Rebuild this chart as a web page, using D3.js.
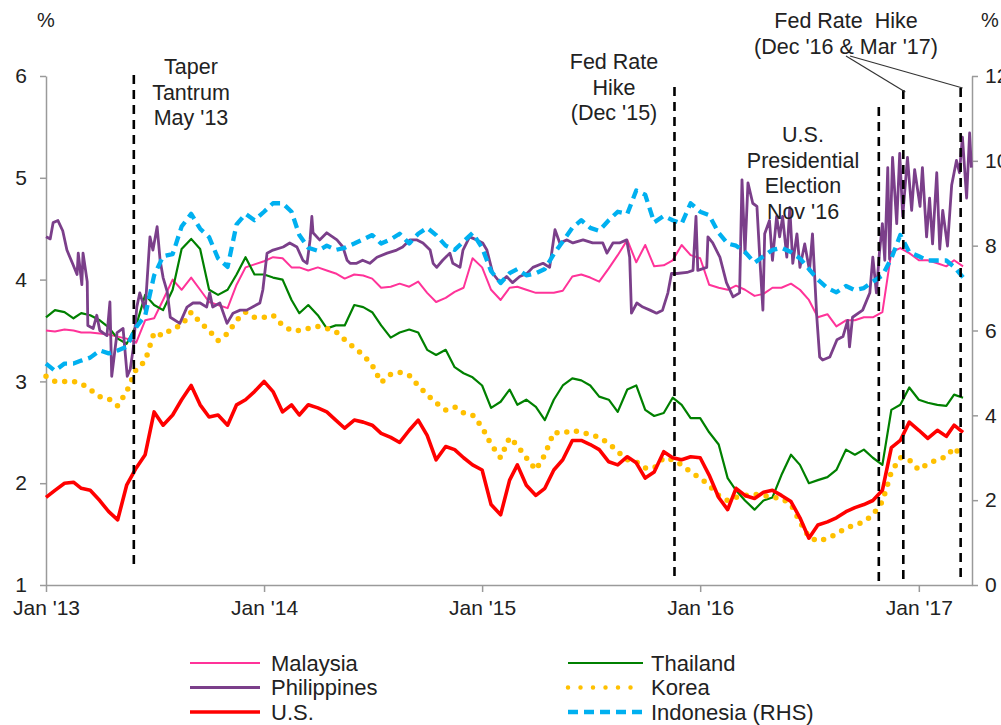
<!DOCTYPE html>
<html>
<head>
<meta charset="utf-8">
<script src="https://cdn.jsdelivr.net/npm/d3@7"></script>
<style>
body{margin:0;background:#fff;}
svg{font-family:"Liberation Sans",Arial,sans-serif;}
</style>
</head>
<body>
<svg width="1001" height="725"></svg>
<script>
// semi-monthly sample dates (1st and 16th of every month, Jan '13 - Mar '17)
var gridDates = d3.timeMonth.range(new Date(2013,0,1), new Date(2017,3,1))
  .flatMap(function(m){ return [m, d3.timeDay.offset(m,15)]; });

var malaysia = [3.50,3.49,3.51,3.50,3.48,3.48,3.47,3.46,3.44,3.42,
  3.38,3.60,3.62,3.80,4.0,3.90,4.02,3.90,3.78,3.75,
  3.72,3.95,4.12,4.15,4.18,4.22,4.21,4.12,4.12,4.09,
  4.12,4.09,4.06,4.01,4.05,4.04,4.01,3.92,3.93,3.96,
  3.93,3.98,3.87,3.78,3.82,3.88,3.92,4.21,4.12,3.90,
  3.80,3.92,3.93,3.90,3.87,3.87,3.87,3.89,4.03,4.05,
  4.02,3.98,4.11,4.24,4.39,4.17,4.34,4.13,4.14,4.19,
  4.34,4.24,4.21,3.95,3.92,3.90,3.94,3.90,3.84,3.86,
  3.92,3.92,3.96,3.90,3.80,3.63,3.66,3.54,3.60,3.60,
  3.63,3.63,3.68,4.27,4.31,4.26,4.19,4.19,4.16,4.13,
  4.19,4.13];

var thailand = [3.63,3.70,3.68,3.62,3.67,3.65,3.60,3.53,3.42,3.37,
  3.55,3.85,3.75,3.70,3.90,4.30,4.40,4.30,3.90,3.85,
  3.90,4.05,4.22,4.05,4.05,4.02,4.0,3.80,3.67,3.75,
  3.65,3.52,3.55,3.55,3.75,3.73,3.68,3.55,3.43,3.48,
  3.51,3.48,3.31,3.26,3.31,3.14,3.08,3.04,2.96,2.74,
  2.80,2.92,2.77,2.82,2.75,2.62,2.82,2.96,3.03,3.01,
  2.96,2.85,2.82,2.70,2.92,2.96,2.72,2.66,2.69,2.84,
  2.77,2.64,2.64,2.50,2.38,2.05,1.93,1.83,1.74,1.83,
  1.86,2.08,2.28,2.18,2.0,2.03,2.06,2.13,2.33,2.28,
  2.33,2.25,2.18,2.72,2.77,2.94,2.82,2.79,2.77,2.76,
  2.87,2.84];

var korea = [3.05,3.0,3.0,3.0,2.98,2.92,2.85,2.83,2.76,2.90,
  3.12,3.20,3.48,3.45,3.52,3.55,3.68,3.58,3.50,3.40,
  3.47,3.60,3.68,3.63,3.63,3.65,3.55,3.50,3.50,3.52,
  3.54,3.52,3.49,3.41,3.33,3.26,3.16,2.99,3.07,3.09,
  3.06,2.96,2.87,2.79,2.72,2.75,2.69,2.67,2.55,2.38,
  2.25,2.45,2.37,2.25,2.13,2.28,2.50,2.49,2.52,2.50,
  2.48,2.45,2.39,2.31,2.23,2.21,2.15,2.15,2.25,2.23,
  2.18,2.11,2.05,1.98,1.88,1.83,1.86,1.88,1.89,1.88,
  1.86,1.85,1.79,1.62,1.47,1.43,1.46,1.50,1.56,1.59,
  1.62,1.69,1.82,2.11,2.25,2.23,2.13,2.19,2.23,2.26,
  2.35,2.25];

var us = [1.86,1.93,2.0,2.01,1.95,1.93,1.83,1.72,1.64,1.98,
  2.15,2.28,2.70,2.57,2.67,2.82,2.96,2.77,2.65,2.67,
  2.57,2.77,2.82,2.90,3.0,2.90,2.70,2.77,2.67,2.77,
  2.74,2.70,2.62,2.54,2.62,2.60,2.57,2.49,2.45,2.40,
  2.52,2.62,2.47,2.23,2.36,2.33,2.25,2.18,2.13,1.79,
  1.69,2.03,2.18,1.98,1.88,1.95,2.13,2.23,2.42,2.42,
  2.38,2.33,2.21,2.18,2.26,2.20,2.05,2.11,2.31,2.25,
  2.23,2.26,2.25,2.08,1.86,1.74,1.95,1.88,1.85,1.91,
  1.93,1.88,1.82,1.66,1.46,1.59,1.62,1.66,1.72,1.76,
  1.79,1.83,1.93,2.35,2.42,2.60,2.52,2.44,2.52,2.46,
  2.57,2.50];

// right-hand scale
var indonesia = [5.22,5.05,5.22,5.22,5.29,5.36,5.53,5.46,5.53,5.62,
  6.08,6.35,7.3,7.75,7.8,8.45,8.75,8.4,8.2,7.7,
  7.5,8.5,8.75,8.6,8.8,9.0,9.0,8.8,8.25,7.95,
  7.88,8.0,7.9,7.95,8.05,8.15,8.25,8.05,8.15,8.28,
  8.05,8.28,8.42,8.25,8.0,7.9,8.1,8.3,7.95,7.4,
  7.12,7.35,7.45,7.3,7.35,7.45,7.8,8.1,8.42,8.6,
  8.42,8.35,8.6,8.8,8.75,9.3,9.2,8.55,8.7,8.6,
  8.52,9.0,8.8,8.72,8.3,8.05,8.0,7.85,7.6,7.75,
  7.9,7.95,7.85,7.7,7.45,7.2,7.0,6.9,7.05,6.95,
  7.0,7.15,7.3,7.7,8.25,7.85,7.75,7.65,7.65,7.65,
  7.5,7.25];

// Philippines is spiky, so it has its own dates
var phDates = ["2013-01-01","2013-01-08","2013-01-13","2013-01-21","2013-01-29","2013-02-05","2013-02-15","2013-02-22","2013-02-24","2013-03-02",
  "2013-03-04","2013-03-11","2013-03-12","2013-03-21","2013-03-27","2013-04-01","2013-04-13","2013-04-18","2013-04-21","2013-04-30",
  "2013-05-10","2013-05-17","2013-05-22","2013-05-27","2013-06-02","2013-06-07","2013-06-16","2013-06-24","2013-06-29","2013-07-06",
  "2013-07-11","2013-07-16","2013-07-23","2013-07-28","2013-08-13","2013-08-25","2013-09-04","2013-09-16","2013-09-27","2013-10-02",
  "2013-10-07","2013-10-19","2013-10-31","2013-11-10","2013-11-22","2013-12-03","2013-12-25","2013-12-30","2014-01-06","2014-01-16",
  "2014-02-02","2014-02-13","2014-02-25","2014-03-07","2014-03-14","2014-03-19","2014-03-22","2014-03-24","2014-04-04","2014-04-16",
  "2014-05-03","2014-05-13","2014-05-20","2014-05-25","2014-06-05","2014-06-15","2014-06-27","2014-07-09","2014-07-26","2014-08-11",
  "2014-08-21","2014-09-02","2014-09-14","2014-09-24","2014-10-06","2014-10-11","2014-10-17","2014-10-27","2014-11-08","2014-11-13",
  "2014-11-25","2014-11-30","2014-12-11","2014-12-23","2015-01-02","2015-01-09","2015-01-19","2015-01-31","2015-02-11","2015-02-21",
  "2015-03-05","2015-03-17","2015-03-27","2015-04-13","2015-04-24","2015-05-03","2015-05-11","2015-05-23","2015-06-02","2015-06-19",
  "2015-07-05","2015-07-22","2015-07-29","2015-08-08","2015-08-19","2015-08-31","2015-09-05","2015-09-08","2015-09-17","2015-09-27",
  "2015-10-09","2015-10-20","2015-10-30","2015-11-08","2015-11-14","2015-11-23","2015-12-10","2015-12-20","2015-12-25","2015-12-28",
  "2016-01-12","2016-01-14","2016-01-22","2016-02-03","2016-02-14","2016-02-25","2016-03-07","2016-03-11","2016-03-16","2016-03-21",
  "2016-03-29","2016-04-05","2016-04-10","2016-04-15","2016-04-18","2016-04-26","2016-05-01","2016-05-08","2016-05-13","2016-05-18",
  "2016-05-25","2016-05-30","2016-06-04","2016-06-11","2016-06-16","2016-06-24","2016-07-02","2016-07-07","2016-07-14","2016-07-19",
  "2016-07-24","2016-08-05","2016-08-17","2016-08-27","2016-09-04","2016-09-07","2016-09-12","2016-09-29","2016-10-11","2016-10-16",
  "2016-10-22","2016-10-27","2016-11-01","2016-11-05","2016-11-10","2016-11-13","2016-11-18","2016-11-25","2016-11-30","2016-12-05",
  "2016-12-13","2016-12-20","2016-12-25","2017-01-03","2017-01-07","2017-01-14","2017-01-19","2017-01-24","2017-01-31","2017-02-05",
  "2017-02-10","2017-02-18","2017-02-25","2017-03-05","2017-03-10","2017-03-15","2017-03-22","2017-03-27","2017-03-30"];
var phValues = [4.42,4.40,4.56,4.58,4.48,4.29,4.15,4.05,4.26,3.95,
  4.26,3.98,3.55,3.52,3.65,3.50,3.45,3.78,3.05,3.48,
  3.52,3.05,3.12,3.32,3.73,3.87,3.70,4.42,4.29,4.52,
  4.19,4.02,3.88,3.63,3.57,3.73,3.77,3.77,3.73,3.87,
  3.73,3.77,3.57,3.67,3.70,3.70,3.77,3.90,4.26,4.29,
  4.32,4.36,4.32,4.19,4.16,4.39,4.62,4.46,4.39,4.46,
  4.39,4.32,4.19,4.16,4.16,4.19,4.16,4.22,4.26,4.29,
  4.32,4.39,4.39,4.36,4.29,4.16,4.12,4.19,4.26,4.16,
  4.12,4.29,4.42,4.39,4.36,4.29,4.06,3.97,4.03,3.97,
  4.03,4.06,4.12,4.16,4.12,4.49,4.36,4.39,4.36,4.39,
  4.36,4.36,4.26,4.36,4.36,4.39,4.22,3.67,3.77,3.73,
  3.70,3.67,3.70,3.87,4.06,4.06,4.07,4.09,4.62,4.09,
  4.12,4.42,4.36,4.22,3.97,3.83,3.87,4.98,4.26,4.95,
  4.75,4.72,4.19,3.70,4.45,4.58,4.19,4.62,4.42,4.62,
  4.22,4.71,4.16,4.45,4.12,4.35,4.09,4.45,3.65,3.24,
  3.21,3.24,3.41,3.44,3.60,3.34,3.63,3.70,3.87,4.22,
  3.87,4.26,4.55,4.19,5.10,4.20,5.20,4.55,5.24,4.62,
  5.20,4.68,5.08,4.72,5.10,4.42,4.80,4.35,5.05,4.30,
  4.68,4.33,4.93,5.17,5.05,5.40,4.80,5.44,5.10];

var leftTicks = [1,2,3,4,5,6];
var rightTicks = [0,2,4,6,8,10,12];
var yearTicks = ["2013-01-01","2014-01-01","2015-01-01","2016-01-01","2017-01-01"];
var yearLabels = ["Jan '13","Jan '14","Jan '15","Jan '16","Jan '17"];

var eventDates = ["2013-05-28","2015-11-19","2016-10-26","2016-12-06","2017-03-12"];
var eventLabels = [["Taper","Tantrum","May '13"],["Fed Rate","Hike","(Dec '15)"],
  ["U.S.","Presidential","Election","Nov '16"],["Fed Rate  Hike","(Dec '16 & Mar '17)"]];

var parse = d3.timeParse("%Y-%m-%d");

var svg = d3.select("svg");
var x = d3.scaleTime().domain([new Date(2013,0,1), new Date(2017,2,31)]).range([46,972]);
var yL = d3.scaleLinear().domain([1,6]).range([585,76]);
var yR = d3.scaleLinear().domain([0,12]).range([585,76]);

function zip(dates, vals){
  return vals.map(function(v,i){ return {date: dates[i], v: v}; });
}

var series = [
  {name:"Malaysia", data: zip(gridDates, malaysia), color:"#FF3399", w:2, dash:null, y:yL},
  {name:"Thailand", data: zip(gridDates, thailand), color:"#008000", w:2.2, dash:null, y:yL},
  {name:"Korea", data: zip(gridDates, korea), color:"#FFC000", w:5.5, dash:"0 10", y:yL, cap:"round"},
  {name:"U.S.", data: zip(gridDates, us), color:"#FF0000", w:3.6, dash:null, y:yL},
  {name:"Philippines", data: zip(phDates.map(parse), phValues), color:"#7B3F8A", w:2.8, dash:null, y:yL},
  {name:"Indonesia (RHS)", data: zip(gridDates, indonesia), color:"#00B0F0", w:4.3, dash:"10 6", y:yR}
];

// axes
var axisColor = "#9a9a9a";
function styleAxis(g){
  g.selectAll("path.domain").attr("stroke", axisColor).attr("stroke-width",1.5);
  g.selectAll(".tick line").attr("stroke", axisColor).attr("stroke-width",1.5);
  g.selectAll("text").attr("fill","#222").style("font-size","21px").style("font-family","Liberation Sans, Arial, sans-serif");
}

svg.append("g").attr("transform","translate(46,0)")
  .call(d3.axisLeft(yL).tickValues(leftTicks).tickSize(6).tickSizeOuter(0).tickPadding(13).tickFormat(d3.format("d")))
  .call(styleAxis);

svg.append("g").attr("transform","translate(972,0)")
  .call(d3.axisRight(yR).tickValues(rightTicks).tickSize(6).tickSizeOuter(0).tickPadding(7).tickFormat(d3.format("d")))
  .call(styleAxis);

svg.append("g").attr("transform","translate(0,585)")
  .call(d3.axisBottom(x).tickValues(yearTicks.map(parse)).tickSize(7).tickSizeOuter(0).tickPadding(8)
    .tickFormat(function(d,i){ return yearLabels[i]; }))
  .call(styleAxis);

svg.append("text").attr("x",46).attr("y",27).attr("text-anchor","middle")
  .style("font-size","20px").attr("fill","#222").text("%");
svg.append("text").attr("x",990).attr("y",27).attr("text-anchor","middle")
  .style("font-size","20px").attr("fill","#222").text("%");

// lines
series.forEach(function(s){
  var line = d3.line().x(function(d){ return x(d.date); }).y(function(d){ return s.y(d.v); });
  svg.append("path").datum(s.data)
    .attr("fill","none")
    .attr("stroke", s.color)
    .attr("stroke-width", s.w)
    .attr("stroke-linejoin","round")
    .attr("stroke-linecap", s.cap || "butt")
    .attr("stroke-dasharray", s.dash)
    .attr("d", line);
});

// event markers
var eventTop = [75, 87, 107, 90, 88];
var eventBottom = [570, 582, 582, 585, 582];
svg.selectAll("line.event").data(eventDates).enter().append("line")
  .attr("class","event")
  .attr("x1", function(d){ return x(parse(d)); })
  .attr("x2", function(d){ return x(parse(d)); })
  .attr("y1", function(d,i){ return eventTop[i]; })
  .attr("y2", function(d,i){ return eventBottom[i]; })
  .attr("stroke","#000").attr("stroke-width",2.6).attr("stroke-dasharray","9 6");

// callouts for the last two
svg.append("line").attr("x1",846).attr("y1",56).attr("x2",x(parse(eventDates[3]))+2).attr("y2",92)
  .attr("stroke","#333").attr("stroke-width",1.2);
svg.append("line").attr("x1",850).attr("y1",56).attr("x2",x(parse(eventDates[4]))+2).attr("y2",88)
  .attr("stroke","#333").attr("stroke-width",1.2);

var labelPos = [{cx:191, y0:74}, {cx:614, y0:69}, {cx:803, y0:142}, {cx:846, y0:28}];
eventLabels.forEach(function(lines, i){
  var t = svg.append("text").attr("text-anchor","middle")
    .style("font-size","21.5px").attr("fill","#222");
  lines.forEach(function(l, j){
    t.append("tspan").attr("x", labelPos[i].cx).attr("y", labelPos[i].y0 + j*25.5)
      .style("white-space","pre").text(l);
  });
});

// legend
var legendOrder = ["Malaysia","Philippines","U.S.","Thailand","Korea","Indonesia (RHS)"];
legendOrder.forEach(function(name, i){
  var s = series.find(function(d){ return d.name === name; });
  var col = i < 3 ? 0 : 1, row = i % 3;
  var x0 = col === 0 ? 190 : 568, x1 = col === 0 ? 260 : 643, tx = col === 0 ? 271 : 651;
  var yy = 663 + row*24.5;
  svg.append("line").attr("x1",x0).attr("x2",x1).attr("y1",yy).attr("y2",yy)
    .attr("stroke", s.color).attr("stroke-width", Math.min(s.w, 4.5))
    .attr("stroke-linecap", s.cap || "butt")
    .attr("stroke-dasharray", s.name === "Korea" ? "0 12.5" : s.dash);
  svg.append("text").attr("x",tx).attr("y",yy+7.5)
    .style("font-size","22px").attr("fill","#222").text(name);
});
</script>
</body>
</html>
